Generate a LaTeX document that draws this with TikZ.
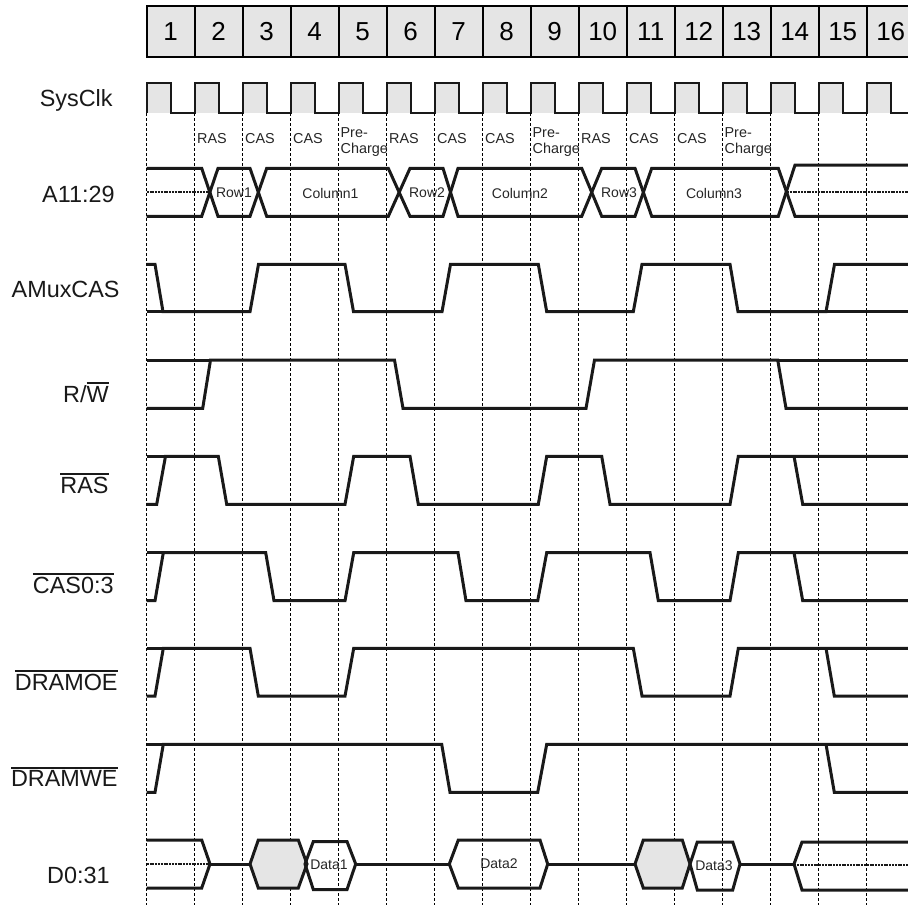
\documentclass[tikz,border=0pt]{standalone}
\usepackage{fontspec}
\setmainfont{Liberation Sans}
\usetikzlibrary{positioning}
\newcommand{\act}[1]{\setbox0\hbox{#1}\rlap{\rule[\dimexpr\ht0+0.9pt\relax]{\wd0}{1pt}}#1}

\begin{document}
\begin{tikzpicture}[
        x=0.5pt, y=-0.5pt,
        cell/.style={rectangle, draw=black, line width=1pt, fill=black!10, minimum width=24pt, minimum height=25.5pt, inner sep=0pt, font=\fontsize{13}{15}\selectfont},
        signame/.style={anchor=base east, inner sep=0pt, font=\fontsize{11.7}{14}\selectfont, text=black!90},
        phase/.style={anchor=base west, inner sep=0pt, font=\fontsize{7.2}{8}\selectfont, text=black!85},
        val/.style={inner sep=0pt, font=\fontsize{7}{8}\selectfont, text=black!85},
        guide/.style={draw=black, line width=0.5pt, dash pattern=on 1.5pt off 1pt},
        clk/.style={draw=black!90, line width=1pt},
        wave/.style={draw=black!90, line width=1.5pt},
        undef/.style={draw=black!90, line width=1pt, dash pattern=on 1pt off 0.4pt},
        hold/.style={wave, fill=black!10}
    ]
        \useasboundingbox (0,0) rectangle (908,905);
        \clip (0,0) rectangle (908,905);
        % cycle numbers
        \foreach \k in {1,...,16}
            \node[cell] (c\k) at ({146.7+48*\k-24},31.5) {\k};
        % clock
        \foreach \k in {0,...,15}
            \fill[black!10] ({146.7+48*\k},83.3) rectangle ++(24,30);
        \draw[clk] (146.7,113.3) \foreach \k in {0,...,15} {-- ({146.7+48*\k},83.3) -- ++(24,0) -- ++(0,30) -- ++(24,0)};
        \foreach \k in {0,...,15}
            \draw[guide] ({146.7+48*\k},113.3) -- ({146.7+48*\k},905);
        % phases
        \foreach \k/\t in {1/RAS,2/CAS,3/CAS,5/RAS,6/CAS,7/CAS,9/RAS,10/CAS,11/CAS}
            \node[phase] (p\k) at ({146.7+48*\k+2},143.5) {\t};
        \foreach \k in {4,8,12}
            \node[phase, anchor=north west, align=left] (p\k) at ({146.7+48*\k+1.5},127.5) {Pre-\\Charge};
        % signal names
        \node[signame] (nclk) at (113,106.7) {SysClk};
        \node[signame] (nadr) at (115,202.3) {A11:29};
        \node[signame] (nmux) at (120,297.3) {AMuxCAS};
        \node[signame] (nrw) at (109,402.3) {R/\act{W}};
        \node[signame] (nras) at (109,493.3) {\act{RAS}};
        \node[signame] (ncas) at (114,593.3) {\act{CAS0:3}};
        \node[signame] (noe) at (118,690) {\act{DRAMOE}};
        \node[signame] (nwe) at (118,786.7) {\act{DRAMWE}};
        \node[signame] (ndat) at (110,883.3) {D0:31};
        % address bus
        \draw[undef] (146.7,192.3) -- (209,192.3);
        \draw[wave] (146.7,168.3) -- (201.7,168.3) -- (218,216.3) -- (250,216.3) -- (266.7,168.3) -- (388.3,168.3) -- (410,216.3) -- (443,216.3) -- (458,168.3) -- (581.7,168.3) -- (601.7,216.3) -- (635,216.3) -- (651.7,168.3) -- (778.3,168.3) -- (795,216.3) -- (908,216.3);
        \draw[wave] (146.7,216.3) -- (201.7,216.3) -- (218,168.3) -- (250,168.3) -- (266.7,216.3) -- (388.3,216.3) -- (410,168.3) -- (443,168.3) -- (458,216.3) -- (581.7,216.3) -- (601.7,168.3) -- (635,168.3) -- (651.7,216.3) -- (778.3,216.3) -- (795,165) -- (908,165);
        \draw[undef] (787,192.3) -- (908,192.3);
        \node[val] (row1) at (234,193) {Row1};
        \node[val] (col1) at (330.5,193) {Column1};
        \node[val] (row2) at (427,193) {Row2};
        \node[val] (col2) at (520,193) {Column2};
        \node[val] (row3) at (619,193) {Row3};
        \node[val] (col3) at (714,193) {Column3};
        % AMuxCAS
        \draw[wave] (146.7,264.3) -- (155,264.3) -- (163,311.7) -- (250,311.7) -- (258.5,264.3) -- (345,264.3) -- (353.5,311.7) -- (442,311.7) -- (450.5,264.3) -- (538.3,264.3) -- (546.7,311.7) -- (633.3,311.7) -- (642,264.3) -- (730,264.3) -- (738,311.7) -- (826,311.7) -- (834.5,264.3) -- (908,264.3);
        \draw[wave] (146.7,311.7) -- (163,311.7);
        \draw[wave] (826,311.7) -- (908,311.7);
        % R/W
        \draw[wave] (146.7,408.3) -- (202.7,408.3) -- (210.5,360) -- (394.5,360) -- (403,408.3) -- (586,408.3) -- (594.5,360) -- (777.7,360) -- (786,408.3) -- (908,408.3);
        \draw[wave] (146.7,360) -- (210.5,360);
        \draw[wave] (777.7,360) -- (908,360);
        % RAS
        \draw[wave] (146.7,504.3) -- (156.7,504.3) -- (165.5,456.3) -- (218.3,456.3) -- (226.7,504.3) -- (345,504.3) -- (353.7,456.3) -- (410,456.3) -- (418.3,504.3) -- (538.3,504.3) -- (546.7,456.3) -- (601.7,456.3) -- (610,504.3) -- (730,504.3) -- (738.3,456.3) -- (908,456.3);
        \draw[wave] (146.7,456.3) -- (165.5,456.3);
        \draw[wave] (794,456.3) -- (802.7,504.3) -- (908,504.3);
        % CAS
        \draw[wave] (146.7,600.7) -- (155,600.7) -- (163.3,552.7) -- (265.7,552.7) -- (274,600.7) -- (345,600.7) -- (353.7,552.7) -- (458,552.7) -- (466,600.7) -- (537.7,600.7) -- (546.7,552.7) -- (650,552.7) -- (658.3,600.7) -- (730,600.7) -- (738.3,552.7) -- (908,552.7);
        \draw[wave] (146.7,552.7) -- (163.3,552.7);
        \draw[wave] (794,552.7) -- (802.7,600.7) -- (908,600.7);
        % DRAMOE
        \draw[wave] (146.7,696) -- (155,696) -- (163.3,648.3) -- (250,648.3) -- (258.3,696) -- (345,696) -- (353.7,648.3) -- (633.3,648.3) -- (642,696) -- (730,696) -- (738.3,648.3) -- (908,648.3);
        \draw[wave] (146.7,648.3) -- (163.3,648.3);
        \draw[wave] (826,648.3) -- (834.3,696) -- (908,696);
        % DRAMWE
        \draw[wave] (146.7,792.3) -- (155,792.3) -- (163.3,744.3) -- (441.7,744.3) -- (450,792.3) -- (537.7,792.3) -- (546.7,744.3) -- (908,744.3);
        \draw[wave] (146.7,744.3) -- (163.3,744.3);
        \draw[wave] (826,744.3) -- (834.3,792.3) -- (908,792.3);
        % data bus
        \draw[undef] (146.7,864) -- (209,864);
        \draw[wave] (146.7,840) -- (201.7,840) -- (210,864) -- (201.7,888) -- (146.7,888);
        \draw[wave] (210,864) -- (250,864);
        \draw[hold] (250,864) -- (258.3,840) -- (298.3,840) -- (307,864) -- (298.3,888) -- (258.3,888) -- cycle;
        \draw[wave] (305,864) -- (313.3,841.5) -- (347,841.5) -- (355.7,864) -- (347,889.5) -- (313.3,889.5) -- cycle;
        \draw[wave] (355.7,864) -- (449.3,864);
        \draw[wave] (449.3,864) -- (458.3,840) -- (540,840) -- (547.7,864) -- (540,888) -- (458.3,888) -- cycle;
        \draw[wave] (547.7,864) -- (635,864);
        \draw[hold] (635,864) -- (643.3,840) -- (682.3,840) -- (690,864) -- (682.3,888) -- (643.3,888) -- cycle;
        \draw[wave] (690,864) -- (697.3,842) -- (732.7,842) -- (740,864) -- (732.7,890) -- (697.3,890) -- cycle;
        \draw[wave] (740,864) -- (794,864);
        \draw[wave] (908,842) -- (802,842) -- (794,864) -- (802,890) -- (908,890);
        \draw[undef] (794,865) -- (908,865);
        \node[val] (d1) at (329,865) {Data1};
        \node[val] (d2) at (499,864) {Data2};
        \node[val] (d3) at (714,866) {Data3};
\end{tikzpicture}
\end{document}
